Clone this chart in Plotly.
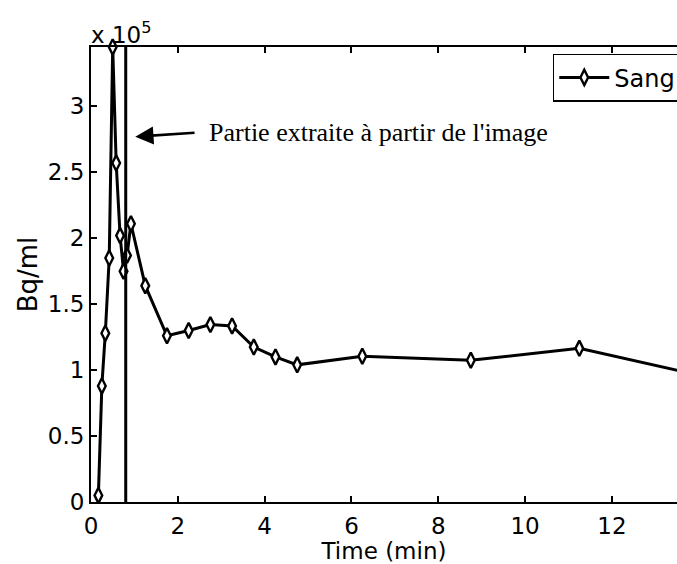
import plotly.graph_objects as go

# Blood activity curve (Bq/ml, in units of 1e5) over time (min)
time_min = [0.17, 0.25, 0.33, 0.42, 0.50, 0.58, 0.67, 0.75, 0.83, 0.92,
            1.25, 1.75, 2.25, 2.75, 3.25, 3.75, 4.25, 4.75, 6.25, 8.75,
            11.25, 13.75]
sang_e5 = [0.05, 0.88, 1.28, 1.85, 3.45, 2.57, 2.02, 1.75, 1.87, 2.11,
           1.64, 1.26, 1.30, 1.345, 1.335, 1.175, 1.10, 1.04, 1.105, 1.075,
           1.165, 0.98]

cut_time = 0.80          # boundary of the extracted part
x_ticks = [0, 2, 4, 6, 8, 10, 12]
y_ticks = [0, 0.5, 1, 1.5, 2, 2.5, 3]
y_tick_text = ["0", "0.5", "1", "1.5", "2", "2.5", "3"]

FONT = "DejaVu Sans, Liberation Sans, Arial, sans-serif"

fig = go.Figure()
fig.add_trace(go.Scatter(
    x=time_min, y=sang_e5, name="Sang", mode="lines+markers",
    line=dict(color="black", width=3),
    marker=dict(symbol="diamond-tall", size=11, color="white",
                line=dict(color="black", width=2.4)),
    cliponaxis=False,
))

fig.add_shape(type="line", xref="x", yref="paper", x0=cut_time, x1=cut_time,
              y0=0, y1=1, line=dict(color="black", width=3))

fig.add_annotation(x=1.02, y=2.77, ax=2.42, ay=2.80, xref="x", yref="y",
                   axref="x", ayref="y", text="", showarrow=True,
                   arrowhead=2, arrowsize=1.4, arrowwidth=2.6,
                   arrowcolor="black")
fig.add_annotation(x=2.68, y=2.80, xref="x", yref="y", xanchor="left",
                   yanchor="middle", showarrow=False,
                   text="Partie extraite à partir de l'image",
                   font=dict(family="Liberation Serif, Times New Roman, serif",
                             size=26, color="black"))
fig.add_annotation(x=0, y=1, xref="paper", yref="paper", xanchor="left",
                   yanchor="bottom", showarrow=False, yshift=-3, xshift=-2,
                   text="x 10<sup>5</sup>",
                   font=dict(family=FONT, size=23, color="black"))

fig.update_layout(
    width=677, height=564,
    margin=dict(l=91, r=0, t=47, b=62, autoexpand=False),
    paper_bgcolor="white", plot_bgcolor="white",
    font=dict(family=FONT, size=23, color="black"),
    showlegend=True,
    legend=dict(x=0.788, y=0.985, xanchor="left", yanchor="top",
                bgcolor="white", bordercolor="black", borderwidth=1.5,
                font=dict(size=24), itemwidth=50, tracegroupgap=0),
)
fig.update_xaxes(
    range=[0, 13.5], tickvals=x_ticks, ticks="inside", ticklen=6,
    tickwidth=1.5, tickcolor="black", showline=True, linecolor="black",
    linewidth=2, mirror="ticks", showgrid=False, zeroline=False,
    ticklabelstandoff=2,
    title=dict(text="Time (min)", standoff=0, font=dict(size=23)),
)
fig.update_yaxes(
    range=[0, 3.45], tickvals=y_ticks, ticktext=y_tick_text, ticks="inside",
    ticklen=6, tickwidth=1.5, tickcolor="black", showline=True,
    linecolor="black", linewidth=2, showgrid=False, zeroline=False,
    title=dict(text="Bq/ml", standoff=3, font=dict(size=26)),
)

fig.write_html("out.html")
